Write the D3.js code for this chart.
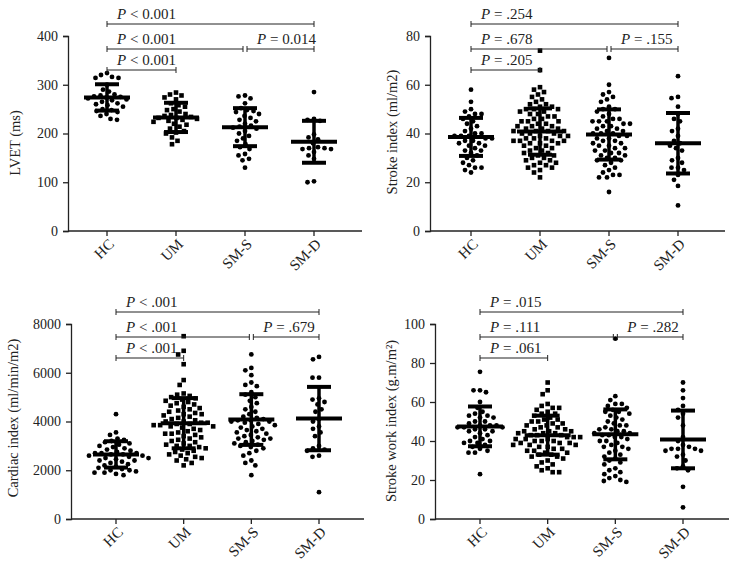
<!DOCTYPE html>
<html>
<head>
<meta charset="utf-8">
<script src="https://cdn.jsdelivr.net/npm/d3@7/dist/d3.min.js"></script>
<style>
  html, body { margin: 0; padding: 0; background: #fff; }
  svg { display: block; }
  text { font-family: "Liberation Serif", "DejaVu Serif", serif; fill: #222; }
</style>
</head>
<body>
<svg id="chart" width="729" height="565"></svg>
<script>
// ---------- DATA ----------
const categories = ["HC", "UM", "SM-S", "SM-D"];

// LVET (ms)
const lvetHC  = [324, 320, 316, 314, 314, 300, 290, 286, 280, 278, 276, 275, 274, 272, 270, 268, 265, 262, 260, 258, 255, 250, 248, 246, 244, 240, 236, 230, 228];
const lvetUM  = [284, 280, 278, 274, 270, 262, 258, 255, 250, 248, 245, 240, 238, 236, 234, 232, 232, 230, 228, 226, 224, 220, 218, 214, 210, 205, 202, 200, 192, 185, 178];
const lvetSMS = [278, 276, 272, 262, 252, 248, 246, 244, 240, 236, 232, 228, 225, 220, 216, 214, 212, 210, 205, 200, 195, 190, 185, 178, 172, 168, 158, 155, 148, 145, 130];
const lvetSMD = [285, 230, 228, 226, 198, 192, 188, 180, 172, 170, 170, 168, 168, 162, 155, 148, 102, 100];
const lvetMean = [274, 233, 213, 183];
const lvetSD   = [27, 30, 39, 43];
const lvetTicks = [0, 100, 200, 300, 400];
const lvetP = ["< 0.001", "< 0.001", "= 0.014", "< 0.001"];

// Stroke index (ml/m2)
const siHC  = [58, 53, 50, 49, 48, 48, 47, 46, 45, 44, 43, 42, 41, 40, 40, 39, 39, 39, 38, 38, 37, 37, 36, 36, 35, 35, 34, 33, 33, 32, 31, 30, 29, 28, 27, 26, 26, 25, 24];
const siUM  = [74, 66, 59, 58, 57, 56, 55, 54, 53, 52, 52, 51, 51, 50, 50, 50, 49, 49, 48, 48, 47, 47, 46, 46, 45, 45, 45, 44, 44, 43, 43, 43, 42, 42, 42, 41, 41, 41, 41, 40, 40, 40, 39, 39, 39, 38, 38, 38, 37, 37, 37, 37, 36, 36, 36, 35, 35, 34, 34, 33, 33, 32, 32, 31, 31, 30, 30, 29, 29, 28, 28, 27, 27, 26, 26, 25, 24, 22];
const siSMS = [71, 60, 57, 56, 55, 54, 53, 51, 50, 50, 49, 48, 47, 46, 46, 45, 45, 45, 44, 44, 43, 43, 42, 42, 41, 41, 40, 40, 40, 39, 39, 38, 38, 37, 37, 36, 36, 35, 35, 34, 34, 33, 33, 32, 32, 31, 31, 30, 30, 29, 29, 28, 27, 26, 25, 24, 23, 23, 22, 22, 16];
const siSMD = [63.5, 55, 54.5, 51, 48, 46, 45, 42, 41, 39, 37, 36, 35, 34, 33, 30, 29, 28, 26, 26, 25, 23, 21, 18.5, 10.5];
const siMean = [38.6, 40.8, 39.6, 36];
const siSD   = [7.8, 9.5, 10.3, 12.4];
const siTicks = [0, 20, 40, 60, 80];
const siP = ["= .205", "= .678", "= .155", "= .254"];

// Cardiac index (ml/min/m2)
const ciHC  = [4300, 3550, 3450, 3300, 3250, 3200, 3150, 3100, 3050, 3000, 2950, 2900, 2850, 2800, 2750, 2700, 2700, 2700, 2650, 2650, 2600, 2600, 2550, 2500, 2500, 2450, 2400, 2400, 2350, 2300, 2250, 2200, 2150, 2100, 2050, 2000, 2000, 1950, 1900, 1900, 1850, 1800];
const ciUM  = [7500, 6900, 6750, 6350, 5700, 5500, 5150, 5100, 5050, 5000, 4950, 4900, 4850, 4800, 4750, 4700, 4650, 4600, 4550, 4500, 4450, 4400, 4350, 4300, 4300, 4250, 4200, 4150, 4100, 4050, 4000, 4000, 3950, 3950, 3900, 3900, 3850, 3850, 3800, 3800, 3750, 3700, 3650, 3600, 3550, 3500, 3500, 3450, 3400, 3350, 3300, 3250, 3200, 3150, 3100, 3050, 3000, 3000, 2950, 2900, 2850, 2800, 2750, 2700, 2650, 2600, 2550, 2500, 2450, 2400, 2300, 2200];
const ciSMS = [6750, 6200, 6100, 5900, 5600, 5500, 5450, 5200, 5100, 5000, 4850, 4750, 4600, 4500, 4400, 4300, 4200, 4150, 4100, 4050, 4050, 4000, 4000, 3950, 3900, 3850, 3800, 3750, 3700, 3650, 3600, 3550, 3500, 3450, 3400, 3350, 3300, 3300, 3250, 3200, 3150, 3100, 3050, 3000, 2950, 2900, 2800, 2700, 2600, 2400, 2300, 2200, 1800];
const ciSMD = [6650, 6550, 5800, 5800, 4950, 4900, 4800, 4700, 4500, 4400, 4100, 4000, 3800, 3700, 3550, 3400, 3000, 2900, 2850, 2800, 2600, 2550, 1100];
const ciMean = [2650, 3930, 4080, 4120];
const ciSD   = [540, 1030, 1040, 1300];
const ciTicks = [0, 2000, 4000, 6000, 8000];
const ciP = ["< .001", "< .001", "= .679", "< .001"];

// Stroke work index (g.m/m2)
const swiHC  = [75.5, 66, 66, 65, 60, 57, 55, 54, 53, 53, 52, 52, 50, 50, 49, 48, 48, 48, 47, 47, 47, 46, 46, 45, 45, 44, 43, 42, 41, 40, 40, 39, 39, 38, 37, 36, 35, 34, 34, 23];
const swiUM  = [70, 66, 64, 59, 58, 57, 57, 56, 55, 54, 54, 53, 52, 51, 51, 50, 50, 49, 49, 48, 48, 47, 47, 46, 46, 45, 45, 45, 44, 44, 44, 43, 43, 43, 42, 42, 42, 41, 41, 41, 40, 40, 40, 39, 39, 39, 38, 38, 38, 37, 37, 36, 36, 35, 35, 34, 34, 33, 33, 32, 32, 31, 30, 29, 28, 27, 26, 25, 24, 24];
const swiSMS = [92.5, 63, 61, 59, 59, 58, 57, 56, 55, 55, 54, 53, 52, 51, 50, 49, 48, 48, 47, 46, 46, 45, 45, 44, 44, 43, 43, 42, 42, 41, 40, 40, 39, 38, 37, 37, 36, 35, 34, 33, 32, 31, 30, 29, 28, 26, 25, 24, 23, 22, 21, 20, 19.5, 19];
const swiSMD = [70, 66, 62, 58, 56, 54, 52, 48, 42, 40, 38, 37, 36, 36, 36, 35, 35, 33, 32, 30, 27, 26, 25, 16.5, 6];
const swiMean = [47.5, 43, 43.4, 40.8];
const swiSD   = [10.2, 10, 12.8, 14.8];
const swiTicks = [0, 20, 40, 60, 80, 100];
const swiP = ["= .061", "= .111", "= .282", "= .015"];

// ---------- DRAWING ----------
const svg = d3.select("#chart");

const panels = [
  { groups: [lvetHC, lvetUM, lvetSMS, lvetSMD], mean: lvetMean, sd: lvetSD, ticks: lvetTicks, p: lvetP,
    label: "LVET (ms)", left: 68, right: 362, top: 36, bottom: 231, c0: 107, c1: 314, lx: 15, ly: 143 },
  { groups: [siHC, siUM, siSMS, siSMD], mean: siMean, sd: siSD, ticks: siTicks, p: siP,
    label: "Stroke index (ml/m2)", left: 430, right: 725, top: 36, bottom: 231, c0: 471, c1: 678, lx: 392, ly: 132 },
  { groups: [ciHC, ciUM, ciSMS, ciSMD], mean: ciMean, sd: ciSD, ticks: ciTicks, p: ciP,
    label: "Cardiac index (ml/min/m2)", left: 71, right: 364, top: 324, bottom: 519, c0: 116, c1: 319, lx: 13, ly: 418 },
  { groups: [swiHC, swiUM, swiSMS, swiSMD], mean: swiMean, sd: swiSD, ticks: swiTicks, p: swiP,
    label: "Stroke work index (g.m/m²)", left: 435, right: 729, top: 324, bottom: 519, c0: 480, c1: 683, lx: 391, ly: 421 }
];

// bracket definitions: [from, to, level]
const bracketPairs = [[0, 1, 2], [0, 2, 1], [2, 3, 1], [0, 3, 0]];
const levelOffsets = [-12, 13, 34];

function swarm(vals, y, d) {
  const pts = vals.map(v => ({ v, y: y(v) })).sort((a, b) => a.y - b.y);
  const placed = [];
  for (const p of pts) {
    let off = 0;
    for (let k = 0; k < 400; k++) {
      const o = (k % 2 === 0 ? 1 : -1) * Math.ceil(k / 2) * 0.5;
      let ok = true;
      for (const q of placed) {
        const dy = q.y - p.y;
        if (Math.abs(dy) >= d) continue;
        const dx = q.x - o;
        if (dx * dx + dy * dy < d * d) { ok = false; break; }
      }
      if (ok) { off = o; break; }
    }
    p.x = off;
    placed.push(p);
  }
  return placed;
}

panels.forEach(P => {
  const g = svg.append("g");
  const ymax = P.ticks[P.ticks.length - 1];
  const y = d3.scaleLinear().domain([0, ymax]).range([P.bottom, P.top]);
  const x = d3.scalePoint().domain(categories).range([P.c0, P.c1]);

  // y axis
  const yAxis = d3.axisLeft(y).tickValues(P.ticks).tickSize(5).tickPadding(5).tickFormat(d3.format("d"));
  const ya = g.append("g").attr("transform", `translate(${P.left},0)`).call(yAxis);
  ya.select(".domain").attr("stroke", "#222").attr("stroke-width", 1.3);
  ya.selectAll(".tick line").attr("stroke", "#222").attr("stroke-width", 1.3);
  ya.selectAll(".tick text").style("font-family", "'Liberation Serif', serif").style("font-size", "14px").attr("fill", "#222");

  // x axis
  const xa = g.append("g").attr("transform", `translate(0,${P.bottom})`);
  xa.append("line").attr("x1", P.left).attr("x2", P.right).attr("y1", 0).attr("y2", 0)
    .attr("stroke", "#222").attr("stroke-width", 1.3);
  categories.forEach(c => {
    xa.append("line").attr("x1", x(c)).attr("x2", x(c)).attr("y1", 0).attr("y2", 5)
      .attr("stroke", "#222").attr("stroke-width", 1.3);
    xa.append("text").attr("transform", `translate(${x(c) + 8},${14}) rotate(-45)`)
      .attr("text-anchor", "end").style("font-size", "15px").text(c);
  });

  // y label
  g.append("text").attr("transform", `translate(${P.lx},${P.ly}) rotate(-90)`)
    .attr("text-anchor", "middle").attr("dy", "0.35em").style("font-size", "14.5px").attr("fill", "#333")
    .text(P.label);

  // dots
  categories.forEach((c, i) => {
    const pts = swarm(P.groups[i], y, 6.2);
    const cx = x(c);
    if (c === "UM") {
      g.selectAll(null).data(pts).enter().append("rect")
        .attr("x", d => cx + d.x - 2.3).attr("y", d => d.y - 2.3)
        .attr("width", 4.6).attr("height", 4.6).attr("fill", "#000");
    } else {
      g.selectAll(null).data(pts).enter().append("circle")
        .attr("cx", d => cx + d.x).attr("cy", d => d.y).attr("r", 2.4).attr("fill", "#000");
    }
    // mean and SD
    const m = P.mean[i], s = P.sd[i];
    g.append("line").attr("x1", cx).attr("x2", cx).attr("y1", y(m + s)).attr("y2", y(m - s))
      .attr("stroke", "#000").attr("stroke-width", 3.5);
    g.append("line").attr("x1", cx - 23).attr("x2", cx + 23).attr("y1", y(m)).attr("y2", y(m))
      .attr("stroke", "#000").attr("stroke-width", 4);
    [m + s, m - s].forEach(v => {
      g.append("line").attr("x1", cx - 12).attr("x2", cx + 12).attr("y1", y(v)).attr("y2", y(v))
        .attr("stroke", "#000").attr("stroke-width", 4);
    });
  });

  // brackets
  bracketPairs.forEach(([a, b, lev], k) => {
    const yy = P.top + levelOffsets[lev];
    let x1 = x(categories[a]), x2 = x(categories[b]);
    if (lev === 1 && b === 2) x2 -= 2;
    if (lev === 1 && a === 2) x1 += 2;
    g.append("line").attr("x1", x1).attr("x2", x2).attr("y1", yy).attr("y2", yy)
      .attr("stroke", "#222").attr("stroke-width", 1);
    [x1, x2].forEach(xx => g.append("line").attr("x1", xx).attr("x2", xx).attr("y1", yy - 3).attr("y2", yy + 3)
      .attr("stroke", "#222").attr("stroke-width", 1));
    const t = g.append("text").attr("x", x1 + 10).attr("y", yy - 5).style("font-size", "15px");
    t.append("tspan").style("font-style", "italic").text("P");
    t.append("tspan").text(" " + P.p[k]);
  });
});
</script>
</body>
</html>
